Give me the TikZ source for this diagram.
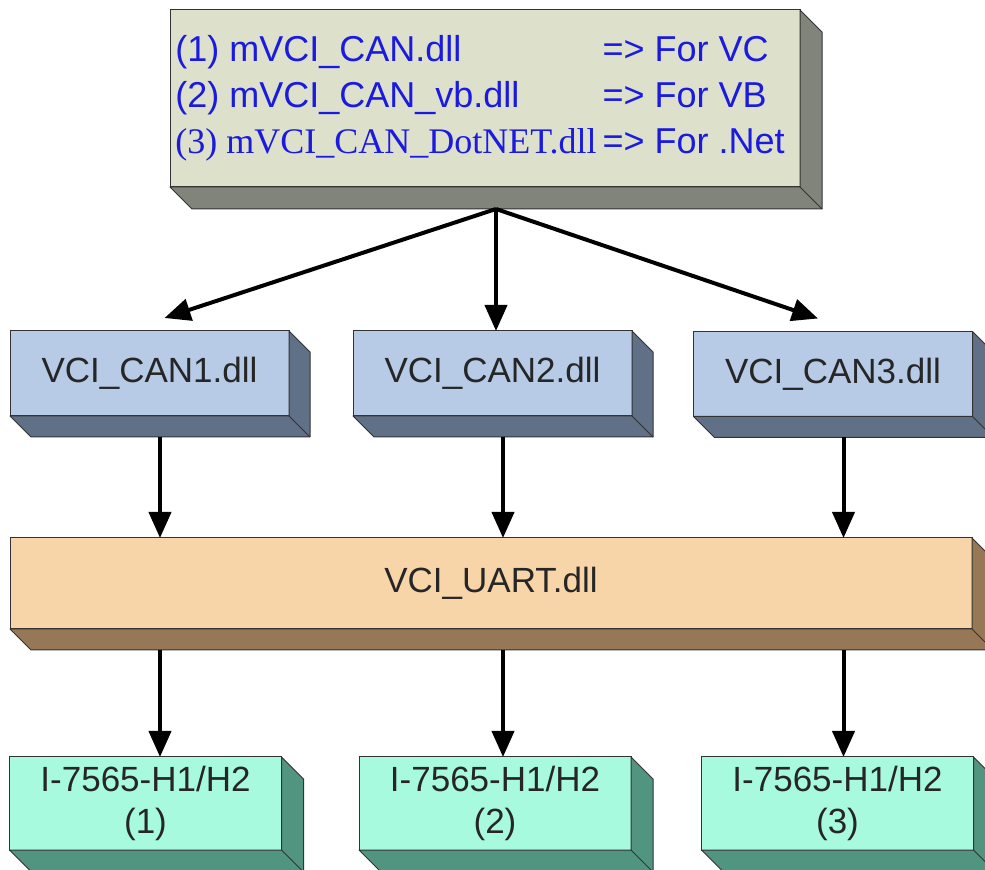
\documentclass[tikz,border=0pt]{standalone}
\usepackage{fontspec}
\setmainfont{Liberation Sans}
\newfontfamily\serifdll{Liberation Serif}
\usetikzlibrary{positioning, calc, arrows.meta}

\definecolor{topfront}{HTML}{DDE0CA}
\definecolor{topside}{HTML}{81847A}
\definecolor{canfront}{HTML}{B7CAE6}
\definecolor{canside}{HTML}{607086}
\definecolor{uartfront}{HTML}{F8D5A8}
\definecolor{uartside}{HTML}{967856}
\definecolor{iofront}{HTML}{A8FADE}
\definecolor{ioside}{HTML}{519580}
\definecolor{dllblue}{HTML}{1A1AE0}

\newcommand{\pxu}{0.5pt}
% depth faces of a box: node, colour, depth
\newcommand{\boxdepth}[3]{%
  \fill[#2, draw=black!80, line width=0.5pt, line join=round] (#1.north east) -- ($(#1.north east)+(#3,#3)$) -- ($(#1.south east)+(#3,#3)$) -- ($(#1.south west)+(#3,#3)$) -- (#1.south west) -- (#1.south east) -- cycle;
  \draw[black!80, line width=0.5pt] (#1.south east) -- ++(#3,#3);
  \coordinate (#1-b) at ($(#1.south)+(#3/2,#3)$);
}

\begin{document}
\begin{tikzpicture}[x=0.5pt, y=-0.5pt,
    box/.style={draw=black!80, line width=0.5pt, inner sep=0pt, outer sep=0pt, text=black!85, align=center, font=\fontsize{17.5}{21}\selectfont},
    arr/.style={-{Triangle[length=13pt, width=11pt]}, line width=2pt}]
    \useasboundingbox (0,0) rectangle (985,870);

    % Top: the three wrapper libraries
    \node[box, fill=topfront, minimum width=630*\pxu, minimum height=177*\pxu, text=dllblue, font=\fontsize{18}{23}\selectfont] (top) at (485,98.5)
        {\begin{tabular}{@{}l@{\hspace{3pt}}l@{}}
         (1) mVCI\_CAN.dll & => For VC\\
         (2) mVCI\_CAN\_vb.dll & => For VB\\
         {\serifdll (3) mVCI\_CAN\_DotNET.dll} & => For .Net
         \end{tabular}\hspace{5pt}};
    \boxdepth{top}{topside}{22}

    % Middle row: one dll per port
    \node[box, fill=canfront, minimum width=279*\pxu, minimum height=85*\pxu] (can1) at (149.5,373.5) {VCI\_CAN1.dll};
    \node[box, fill=canfront, minimum width=279*\pxu, minimum height=85*\pxu] (can2) at (492.5,373.5) {VCI\_CAN2.dll};
    \node[box, fill=canfront, minimum width=279*\pxu, minimum height=85*\pxu] (can3) at (833,374) {VCI\_CAN3.dll};
    \boxdepth{can1}{canside}{21}
    \boxdepth{can2}{canside}{21}
    \boxdepth{can3}{canside}{21}

    % UART layer
    \node[box, fill=uartfront, minimum width=962*\pxu, minimum height=91*\pxu] (uart) at (491,583.5) {VCI\_UART.dll};
    \boxdepth{uart}{uartside}{21}

    % Bottom row: devices
    \node[box, fill=iofront, minimum width=272*\pxu, minimum height=93*\pxu] (io1) at (145.5,803.5) {I-7565-H1/H2\\(1)};
    \node[box, fill=iofront, minimum width=272*\pxu, minimum height=93*\pxu] (io2) at (495,803.5) {I-7565-H1/H2\\(2)};
    \node[box, fill=iofront, minimum width=272*\pxu, minimum height=93*\pxu] (io3) at (837.5,803.5) {I-7565-H1/H2\\(3)};
    \boxdepth{io1}{ioside}{22}
    \boxdepth{io2}{ioside}{22}
    \boxdepth{io3}{ioside}{22}

    % Arrows
    \draw[arr] (top-b) -- ($(can1.north)+(15,-13)$);
    \draw[arr] (top-b) -- (top-b |- can2.north);
    \draw[arr] (top-b) -- ($(can3.north)+(-15,-13)$);

    \draw[arr] (can1-b) -- (can1-b |- uart.north);
    \draw[arr] (can2-b) -- (can2-b |- uart.north);
    \draw[arr] (can3-b) -- (can3-b |- uart.north);

    \draw[arr] (can1-b |- uart-b) -- (can1-b |- io1.north);
    \draw[arr] (can2-b |- uart-b) -- (can2-b |- io2.north);
    \draw[arr] (can3-b |- uart-b) -- (can3-b |- io3.north);

\end{tikzpicture}
\end{document}
